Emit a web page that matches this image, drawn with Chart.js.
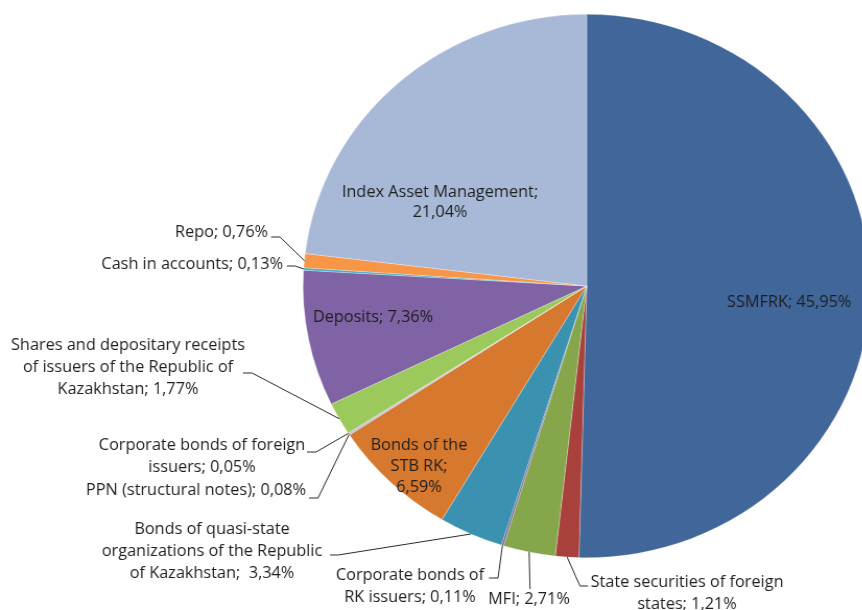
<!DOCTYPE html>
<html>
<head>
<meta charset="utf-8">
<script src="https://cdn.jsdelivr.net/npm/chart.js@4.4.1/dist/chart.umd.min.js"></script>
<style>
  html, body { margin: 0; padding: 0; background: #fff; overflow: hidden; }
  #wrap { width: 860px; height: 610px; transform: scaleX(1.044); transform-origin: left top; }
</style>
</head>
<body>
<div id="wrap"><canvas id="chart_ctx" width="860" height="610"></canvas></div>
<script>
// slices, clockwise from 12 o'clock
const categories = [
  'SSMFRK', 'State securities of foreign states', 'MFI', 'Corporate bonds of RK issuers',
  'Bonds of quasi-state organizations of the Republic of Kazakhstan', 'Bonds of the STB RK',
  'PPN (structural notes)', 'Corporate bonds of foreign issuers',
  'Shares and depositary receipts of issuers of the Republic of Kazakhstan',
  'Deposits', 'Cash in accounts', 'Repo', 'Index Asset Management'
];
const shares = [45.95, 1.21, 2.71, 0.11, 3.34, 6.59, 0.08, 0.05, 1.77, 7.36, 0.13, 0.76, 21.04];
const shareLabels = ['45,95%', '1,21%', '2,71%', '0,11%', '3,34%', '6,59%', '0,08%', '0,05%', '1,77%', '7,36%', '0,13%', '0,76%', '21,04%'];

const colors = [
  '#41679A', '#A8413C', '#86A64B', '#7B5FA0', '#3A91B0', '#D7782F',
  '#A8B9D8', '#D99694', '#9BC95B', '#7F63A4', '#4BACC6', '#F79646', '#A8B9D8'
];

const SX = 1.044; // reference picture is a bit wider than tall

// label layout (reference pixel coords): text lines, centre x, line y's, align, leader [x1,y,x2]
const labelLayout = [
  { lines: ['SSMFRK; 45,95%'], x: 727, y: [303], align: 'left' },
  { lines: ['State securities of foreign', 'states; 1,21%'], x: 687, y: [583, 605], leader: [588, 586, 580] },
  { lines: ['MFI; 2,71%'], x: 529, y: [600], leader: [530, 589, 530] },
  { lines: ['Corporate bonds of', 'RK issuers; 0,11%'], x: 410, y: [576, 598], leader: [489, 578, 498] },
  { lines: ['Bonds of quasi-state', 'organizations of the Republic', 'of Kazakhstan;  3,34%'], x: 212, y: [530, 552, 574], leader: [330, 555, 338] },
  { lines: ['Bonds of the', 'STB RK;', '6,59%'], x: 419, y: [446, 467, 488] },
  { lines: ['PPN (structural notes); 0,08%'], x: 196, y: [491], leader: [309, 498, 318] },
  { lines: ['Corporate bonds of foreign', 'issuers; 0,05%'], x: 202, y: [446, 468], leader: [307, 452, 316] },
  { lines: ['Shares and depositary receipts', 'of issuers of the Republic of', 'Kazakhstan; 1,77%'], x: 128, y: [346, 368, 390], leader: [243, 373, 252] },
  { lines: ['Deposits; 7,36%'], x: 373, y: [318] },
  { lines: ['Cash in accounts; 0,13%'], x: 283, y: [265], align: 'right', leader: [287, 266, 295] },
  { lines: ['Repo; 0,76%'], x: 268, y: [233], align: 'right', leader: [271, 237, 280] },
  { lines: ['Index Asset Management;', '21,04%'], x: 440, y: [193, 213] }
];

const labelPlugin = {
  id: 'sliceLabels',
  afterDatasetsDraw(chart) {
    const c = chart.ctx;
    const arcs = chart.getDatasetMeta(0).data;
    c.save();
    c.font = '15.6px "Open Sans", sans-serif';
    c.fillStyle = '#1e1e1e';
    c.textBaseline = 'middle';
    labelLayout.forEach(function (lab, i) {
      c.textAlign = lab.align || 'center';
      lab.lines.forEach(function (t, k) {
        c.fillText(t, lab.x / SX, lab.y[k]);
      });
      if (lab.leader) {
        const a = arcs[i];
        const mid = (a.startAngle + a.endAngle) / 2;
        const px = a.x + Math.cos(mid) * a.outerRadius;
        const py = a.y + Math.sin(mid) * a.outerRadius;
        c.beginPath();
        c.strokeStyle = '#2a2a2a';
        c.lineWidth = 1;
        c.moveTo(lab.leader[0] / SX, lab.leader[1]);
        c.lineTo(lab.leader[2] / SX, lab.leader[1]);
        c.lineTo(px, py);
        c.stroke();
      }
    });
    c.restore();
  }
};

var ctx = document.getElementById('chart_ctx');
var myChart = new Chart(ctx, {
  type: 'pie',
  data: {
    labels: categories,
    datasets: [{
      data: shares,
      backgroundColor: colors,
      borderColor: 'rgba(255,255,255,0.45)',
      borderWidth: 0.6
    }]
  },
  options: {
    responsive: false,
    animation: false,
    events: [],
    layout: { padding: { left: 290, right: 26, top: 14, bottom: 52 } },
    plugins: {
      legend: { display: false },
      tooltip: { enabled: false }
    }
  },
  plugins: [labelPlugin]
});
</script>
</body>
</html>
